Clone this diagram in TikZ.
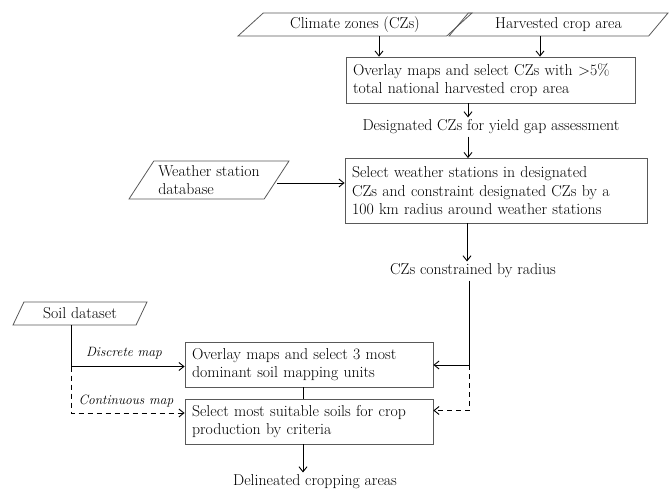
\documentclass[tikz,border=0pt]{standalone}
\usepackage{tikz}
\usetikzlibrary{shapes,arrows.meta,positioning}

\begin{document}
\begin{tikzpicture}[x=1pt,y=-1pt,
      font=\fontsize{15.8}{18.5}\selectfont,
      >={Straight Barb[length=5pt,width=8pt]},
      every path/.style={line width=0.9pt},
      process/.style={draw=black!65, line width=0.8pt, rectangle, align=left, inner xsep=7pt, inner ysep=0pt},
      data/.style={draw=black!65, line width=0.8pt, trapezium, trapezium stretches body, inner sep=0pt, align=left},
      plain/.style={inner sep=2pt},
      maplabel/.style={inner sep=1pt, font=\fontsize{13.5}{15}\selectfont\itshape},
      alt/.style={dash pattern=on 5pt off 4pt}]
      \useasboundingbox (0,0) rectangle (669,491);
      \node[data, trapezium left angle=32, trapezium right angle=148, minimum width=234, minimum height=23] (climate) at (355,24.5) {Climate zones (CZs)};
      \node[data, trapezium left angle=36, trapezium right angle=144, minimum width=219, minimum height=23] (harvest) at (558.5,24.5) {Harvested crop area};
      \node[process, text width=275, minimum height=46] (overlay) at (490.5,80) {Overlay maps and select CZs with >5\%\\ total national harvested crop area};
      \node[plain] (designated) at (491,127) {Designated CZs for yield gap assessment};
      \node[data, trapezium left angle=50, trapezium right angle=130, minimum width=160, minimum height=38] (weather) at (209,180) {Weather station\\ database};
      \node[process, text width=288, minimum height=64.5] (stations) at (496,190.75) {Select weather stations in designated\\ CZs and constraint designated CZs by a\\ 100~km radius around weather stations};
      \node[plain] (constrained) at (473,271) {CZs constrained by radius};
      \node[data, trapezium left angle=46, trapezium right angle=134, minimum width=134, minimum height=23] (soil) at (80,313.5) {Soil dataset};
      \node[process, text width=234, minimum height=45] (units) at (309,364.5) {Overlay maps and select 3 most\\ dominant soil mapping units};
      \node[process, text width=234, minimum height=45] (suitable) at (309,421.5) {Select most suitable soils for crop\\ production by criteria};
      \node[plain] (delineated) at (315,482) {Delineated cropping areas};
      \node[maplabel] (discrete) at (124,353) {Discrete map};
      \node[maplabel] (continuous) at (126,401) {Continuous map};
      \coordinate (soilknee) at (71,366.5);
      \coordinate (radknee) at (469,365);

      \draw[->] ([xshift=24]climate.south) -- ([xshift=24]climate.south |- overlay.north);
      \draw[->] ([xshift=-18.5]harvest.south) -- ([xshift=-18.5]harvest.south |- overlay.north);
      \draw[->] ([xshift=-22.5]overlay.south) -- ([xshift=-22.5]overlay.south |- designated.north);
      \draw[->] ([xshift=-23]designated.south) -- ([xshift=-23]designated.south |- stations.north);
      \draw[->] ([yshift=-3]weather.east) -- ([yshift=-3]weather.east -| stations.west);
      \draw[->] ([xshift=-29]stations.south) -- ([xshift=-29]stations.south |- constrained.north);
      \draw (constrained.south -| radknee) -- (radknee);
      \draw[->] (radknee) -- (radknee -| units.east);
      \draw[->, alt] (radknee) |- ([yshift=11]suitable.east);
      \draw (soil.south -| soilknee) -- (soilknee);
      \draw[->] (soilknee) -- (soilknee -| units.west);
      \draw[->, alt] (soilknee) |- ([yshift=8.5]suitable.west);
      \draw ([xshift=-6]units.south) -- ([xshift=-6]suitable.north);
      \draw[->] ([xshift=-6]suitable.south) -- ([xshift=-6]suitable.south |- delineated.north);
\end{tikzpicture}
\end{document}
